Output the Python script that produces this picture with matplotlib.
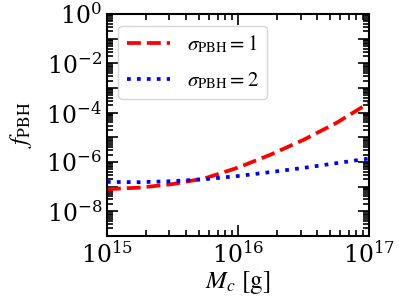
import numpy as np
import matplotlib
matplotlib.use("Agg")
import matplotlib.pyplot as plt
from matplotlib.ticker import LogLocator, FixedLocator, FuncFormatter
from matplotlib.font_manager import FontProperties

plt.rcParams["font.family"] = "DejaVu Serif"
plt.rcParams["mathtext.fontset"] = "dejavuserif"

# data
mass = [1e15, 1.78e15, 3.16e15, 5.62e15, 1e16, 1.78e16, 3.16e16, 5.62e16, 1e17]
f_sigma1 = [7.9e-8, 9.1e-8, 1.26e-7, 2.19e-7, 5.9e-7, 2.0e-6, 7.9e-6, 3.8e-5, 2.5e-4]
f_sigma2 = [1.55e-7, 1.51e-7, 1.66e-7, 2.0e-7, 2.69e-7, 3.89e-7, 5.75e-7, 8.9e-7, 1.38e-6]
y_decades = [1e-8, 1e-7, 1e-6, 1e-5, 1e-4, 1e-3, 1e-2, 1e-1, 1e0]

fig = plt.figure(figsize=(3.99, 2.99), dpi=100)
ax = fig.add_axes([0.268, 0.211, 0.657, 0.742])

ax.plot(mass, f_sigma1, "r--", lw=2.7, label=r"$\sigma_{\rm PBH}=1$")
ax.plot(mass, f_sigma2, "b:", lw=2.7, label=r"$\sigma_{\rm PBH}=2$")

ax.set_xscale("log")
ax.set_yscale("log")
ax.set_xlim(1e15, 1e17)
ax.set_ylim(1e-9, 1e0)

ax.yaxis.set_major_locator(FixedLocator(y_decades))
ax.yaxis.set_minor_locator(LogLocator(base=10, subs=np.arange(2, 10), numticks=20))
ax.yaxis.set_major_formatter(FuncFormatter(
    lambda v, p: r"$10^{%d}$" % round(np.log10(v)) if round(np.log10(v)) % 2 == 0 else ""))

ax.tick_params(which="both", direction="in", top=True, right=True, width=1.2)
ax.tick_params(which="major", length=8, labelsize=17)
ax.tick_params(which="minor", length=4)
for s in ax.spines.values():
    s.set_linewidth(1.5)

stix = FontProperties(family="STIXGeneral", size=18, math_fontfamily="stix")
ax.set_xlabel(r"$M_c$ [g]", fontproperties=stix, labelpad=1)
ax.set_ylabel(r"$f_{\rm PBH}$", fontproperties=stix, labelpad=9)

leg_font = FontProperties(family="STIXGeneral", size=15, math_fontfamily="stix")
ax.legend(loc="upper left", prop=leg_font, handlelength=2.1, handletextpad=0.8,
          labelspacing=0.7, borderaxespad=0.55)

fig.savefig("out.png", dpi=100)
